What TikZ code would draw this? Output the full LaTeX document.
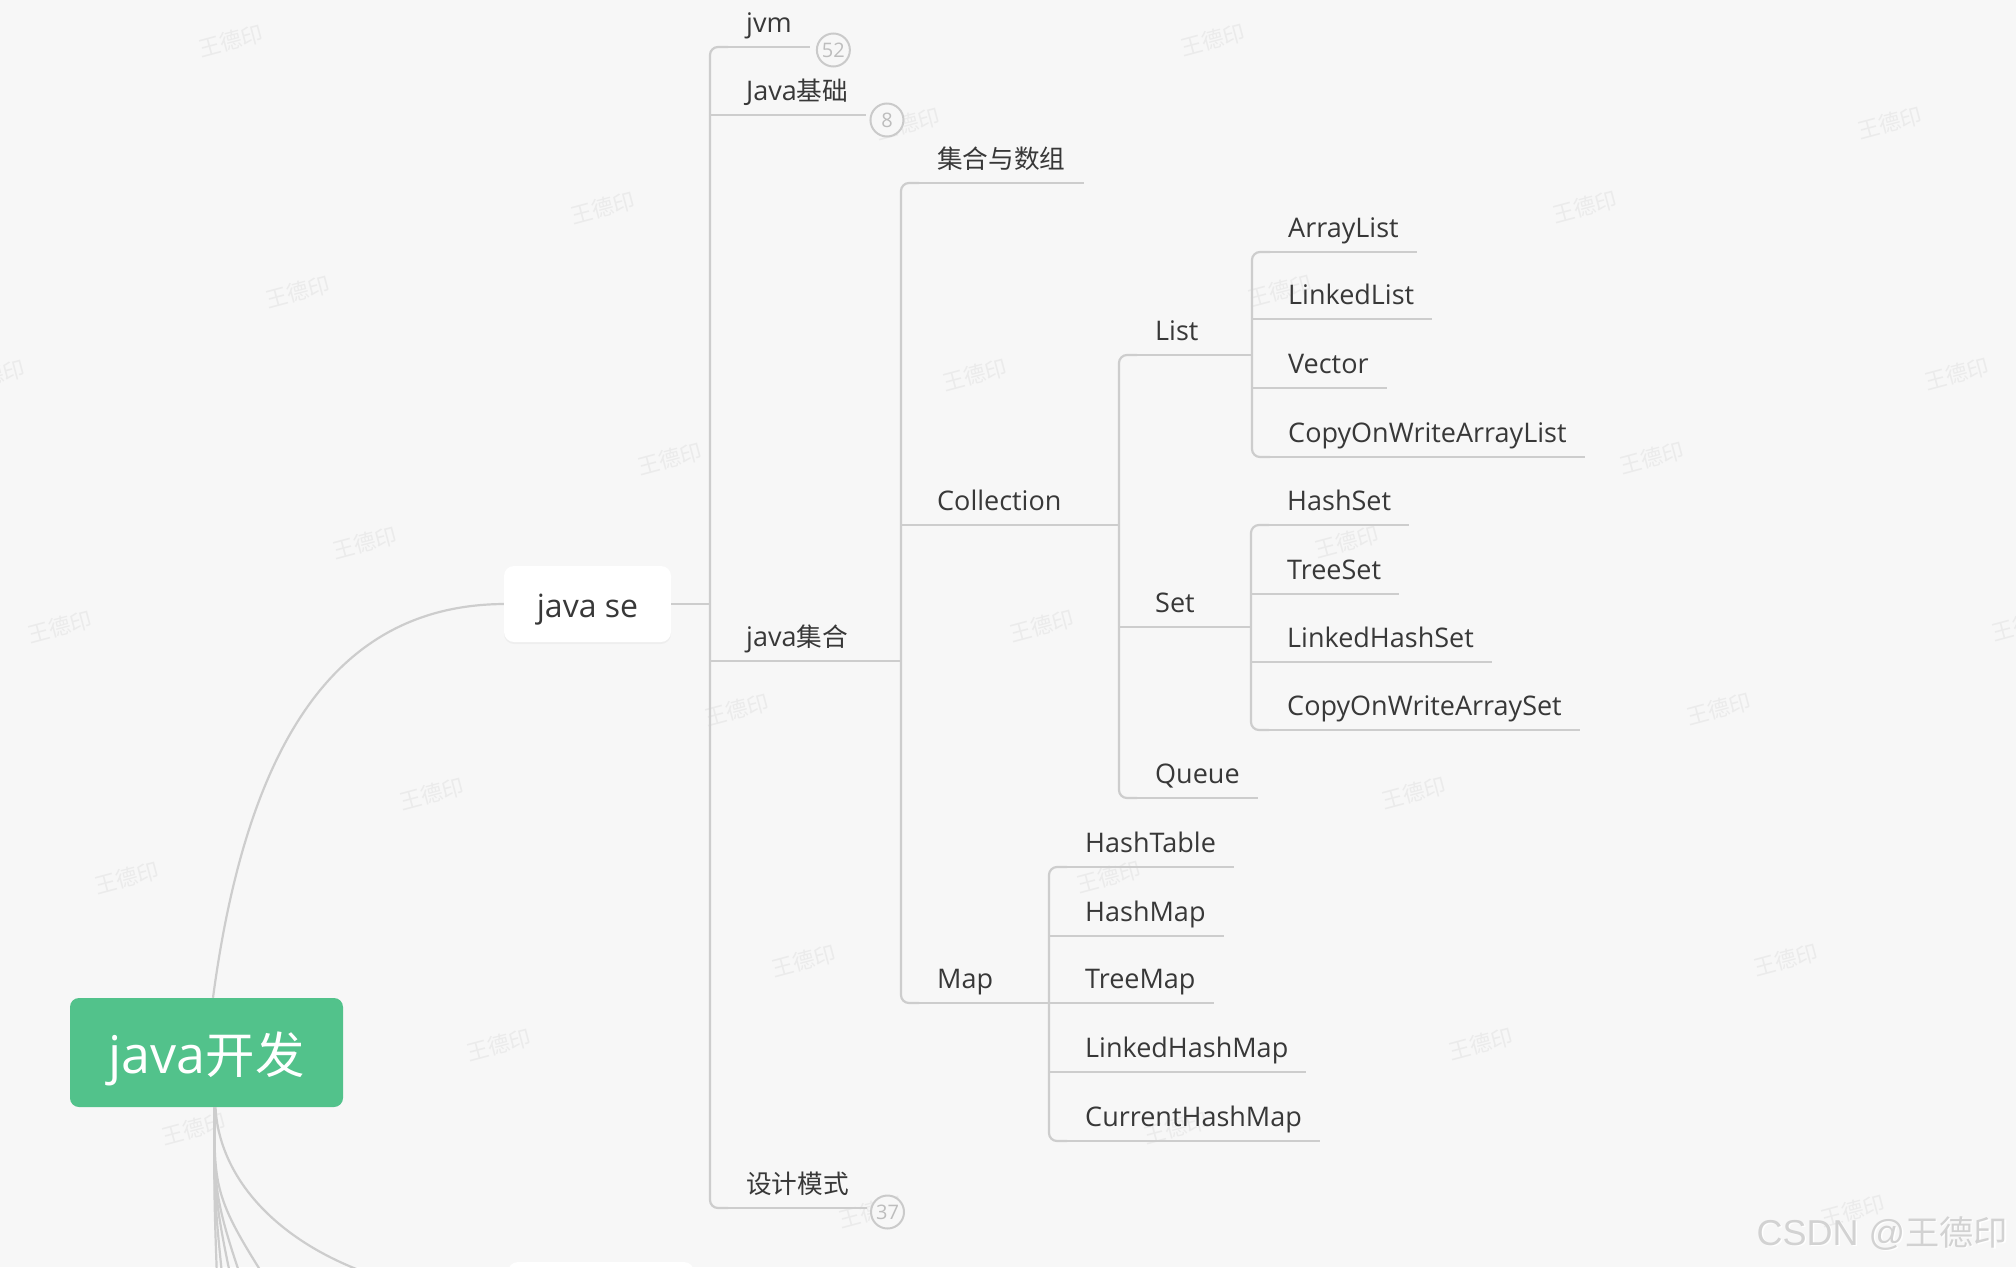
\documentclass[tikz,border=0pt]{standalone}
\usepackage{fontspec}
\setmainfont{Open Sans}
\newfontfamily\cjk{Noto Sans CJK SC}[Scale=0.95]
\newfontfamily\wmlatin{Liberation Sans}
\newcommand\zh[1]{{\cjk #1}}
\usetikzlibrary{shadows}
\definecolor{bg}{HTML}{F7F7F7}
\definecolor{conn}{HTML}{CDCDCD}
\definecolor{txt}{HTML}{383838}
\definecolor{rootg}{HTML}{52C28B}
\definecolor{wm}{HTML}{EBEBEB}
\definecolor{circ}{HTML}{CACACA}
\definecolor{circt}{HTML}{BDBDBD}
\definecolor{csdn}{HTML}{D2D2D2}
\tikzset{
  ln/.style={draw=conn, line width=2.2pt},
  lbl/.style={anchor=south west, inner xsep=18pt, inner ysep=14pt, text depth=0pt,
    text=txt, font=\fontsize{27}{27}\selectfont},
  cnt/.style={circle, draw=circ, line width=2pt, fill=bg, minimum size=33pt,
    inner sep=0pt, text=circt, font=\fontsize{20}{20}\selectfont, anchor=west},
  rootbox/.style={fill=rootg, rounded corners=9pt, minimum width=273pt,
    minimum height=109pt, text=white, font=\fontsize{52}{52}\selectfont, inner sep=0pt,
    text height=41pt, text depth=0pt},
  sebox/.style={fill=white, rounded corners=10pt, minimum width=167pt,
    minimum height=76pt, text=txt, font=\fontsize{32}{32}\selectfont, inner sep=0pt,
    text height=26pt, text depth=0pt,
    drop shadow={opacity=0.07, shadow xshift=0pt, shadow yshift=-2pt}},
  wmk/.style={text=wm, rotate=15, font=\cjk\fontsize{23}{23}\selectfont, inner sep=0pt},
}
\begin{document}
\begin{tikzpicture}[x=1pt,y=-1pt]
\useasboundingbox (0,0) rectangle (2016,1267);
\fill[bg] (0,0) rectangle (2016,1267);
\clip (0,0) rectangle (2016,1267);
% watermarks (only those that fall on the page)
\foreach \i in {-1,...,8}{\foreach \j in {-1,...,7}{
  \pgfmathtruncatemacro\wx{231+67*\i+305*\j}
  \pgfmathtruncatemacro\wy{41+251*\i-84*\j}
  \pgfmathtruncatemacro\wok{(\wx>-25)&&(\wx<2045)&&(\wy>-15)&&(\wy<1285)}
  \ifnum\wok=1
    \node[wmk] (wm\i x\j) at (\wx,\wy) {王德印};
  \fi
}}
% trunk coordinates
\coordinate (T1) at (710,0);
\coordinate (T3) at (901,0);
\coordinate (T4) at (1119,0);
\coordinate (TL) at (1252,0);
\coordinate (TS) at (1251,0);
\coordinate (TM) at (1049,0);
% main nodes
\node[rootbox] (root) at (206.5,1052.5) {java\zh{开发}};
\node[sebox] (se) at (587.5,604) {java se};
\node[fill=white, rounded corners=10pt, minimum width=186pt, minimum height=76pt] (hidden) at (601,1300) {};
% level 2
\node[lbl] (jvm) at (728,47) {jvm};
\node[lbl] (jb) at (728,115) {Java\zh{基础}};
\node[lbl] (jjh) at (728,661) {java\zh{集合}};
\node[lbl] (sj) at (728,1208) {\zh{设计模式}};
\node[cnt] (jvmc) at ([xshift=6pt,yshift=-3pt]jvm.south east) {52};
\node[cnt] (jbc) at ([xshift=3pt,yshift=-5pt]jb.south east) {8};
\node[cnt] (sjc) at ([xshift=3pt,yshift=-4pt]sj.south east) {37};
% level 3
\node[lbl] (szs) at (919,183) {\zh{集合与数组}};
\node[lbl] (coll) at (919,525) {Collection};
\node[lbl] (map) at (919,1003) {Map};
% level 4
\node[lbl] (list) at (1137,355) {List};
\node[lbl] (set) at (1137,627) {Set};
\node[lbl] (queue) at (1137,798) {Queue};
% level 5 list
\node[lbl] (al) at (1270,252) {ArrayList};
\node[lbl] (ll) at (1270,319) {LinkedList};
\node[lbl] (vec) at (1270,388) {Vector};
\node[lbl] (cowal) at (1270,457) {CopyOnWriteArrayList};
% level 5 set
\node[lbl] (hs) at (1269,525) {HashSet};
\node[lbl] (ts) at (1269,594) {TreeSet};
\node[lbl] (lhs) at (1269,662) {LinkedHashSet};
\node[lbl] (cowas) at (1269,730) {CopyOnWriteArraySet};
% level 4 map
\node[lbl] (ht) at (1067,867) {HashTable};
\node[lbl] (hm) at (1067,936) {HashMap};
\node[lbl] (tm) at (1067,1003) {TreeMap};
\node[lbl] (lhm) at (1067,1072) {LinkedHashMap};
\node[lbl] (chm) at (1067,1141) {CurrentHashMap};
% underlines
\foreach \n in {jvm,jb,jjh,sj,szs,coll,map,list,set,queue,al,ll,vec,cowal,hs,ts,lhs,cowas,ht,hm,tm,lhm,chm}
  \draw[ln] (\n.south west) -- (\n.south east);
% root connectors
\draw[ln] ([xshift=6.5pt]root.north) .. controls (250,720) and (350,605) .. (se.west);
\coordinate (b1) at (219,1330);
\coordinate (b2) at (228,1330);
\coordinate (b3) at (242,1330);
\coordinate (b4) at (259,1330);
\coordinate (b5) at (299,1330);
\foreach \b in {b1,b2,b3,b4,b5}
  \draw[ln] ([xshift=8pt]root.south) .. controls (214,1200) .. (\b);
\draw[ln] ([xshift=9pt]root.south) .. controls (220,1200) and (320,1290) .. (hidden.west);
% level 1 trunk
\draw[ln] (se.east) -- (se.east -| T1);
\draw[ln, rounded corners=8pt] (jvm.south west) -- (jvm.south west -| T1) -- (sj.south west -| T1) -- (sj.south west);
\draw[ln] (jb.south west -| T1) -- (jb.south west);
\draw[ln] (jjh.south west -| T1) -- (jjh.south west);
% java集合 -> level 3
\draw[ln] (jjh.south east) -- (jjh.south east -| T3);
\draw[ln, rounded corners=8pt] (szs.south west) -- (szs.south west -| T3) -- (map.south west -| T3) -- (map.south west);
\draw[ln] (coll.south west -| T3) -- (coll.south west);
% Collection -> level 4
\draw[ln] (coll.south east) -- (coll.south east -| T4);
\draw[ln, rounded corners=8pt] (list.south west) -- (list.south west -| T4) -- (queue.south west -| T4) -- (queue.south west);
\draw[ln] (set.south west -| T4) -- (set.south west);
% List children
\draw[ln] (list.south east) -- (list.south east -| TL);
\draw[ln, rounded corners=8pt] (al.south west) -- (al.south west -| TL) -- (cowal.south west -| TL) -- (cowal.south west);
\draw[ln] (ll.south west -| TL) -- (ll.south west);
\draw[ln] (vec.south west -| TL) -- (vec.south west);
% Set children
\draw[ln] (set.south east) -- (set.south east -| TS);
\draw[ln, rounded corners=8pt] (hs.south west) -- (hs.south west -| TS) -- (cowas.south west -| TS) -- (cowas.south west);
\draw[ln] (ts.south west -| TS) -- (ts.south west);
\draw[ln] (lhs.south west -| TS) -- (lhs.south west);
% Map children
\draw[ln] (map.south east) -- (map.south east -| TM);
\draw[ln, rounded corners=8pt] (ht.south west) -- (ht.south west -| TM) -- (chm.south west -| TM) -- (chm.south west);
\draw[ln] (hm.south west -| TM) -- (hm.south west);
\draw[ln] (tm.south west -| TM) -- (tm.south west);
\draw[ln] (lhm.south west -| TM) -- (lhm.south west);
% CSDN mark
\node[anchor=base east, text=white, inner sep=0pt, font=\fontsize{36}{36}\selectfont] (csdnsh) at (2009.5,1246.5) {\wmlatin CSDN @\cjk 王德印};
\node[anchor=base east, text=csdn, inner sep=0pt, font=\fontsize{36}{36}\selectfont] (csdn) at (2008,1245) {\wmlatin CSDN @\cjk 王德印};
\end{tikzpicture}
\end{document}
